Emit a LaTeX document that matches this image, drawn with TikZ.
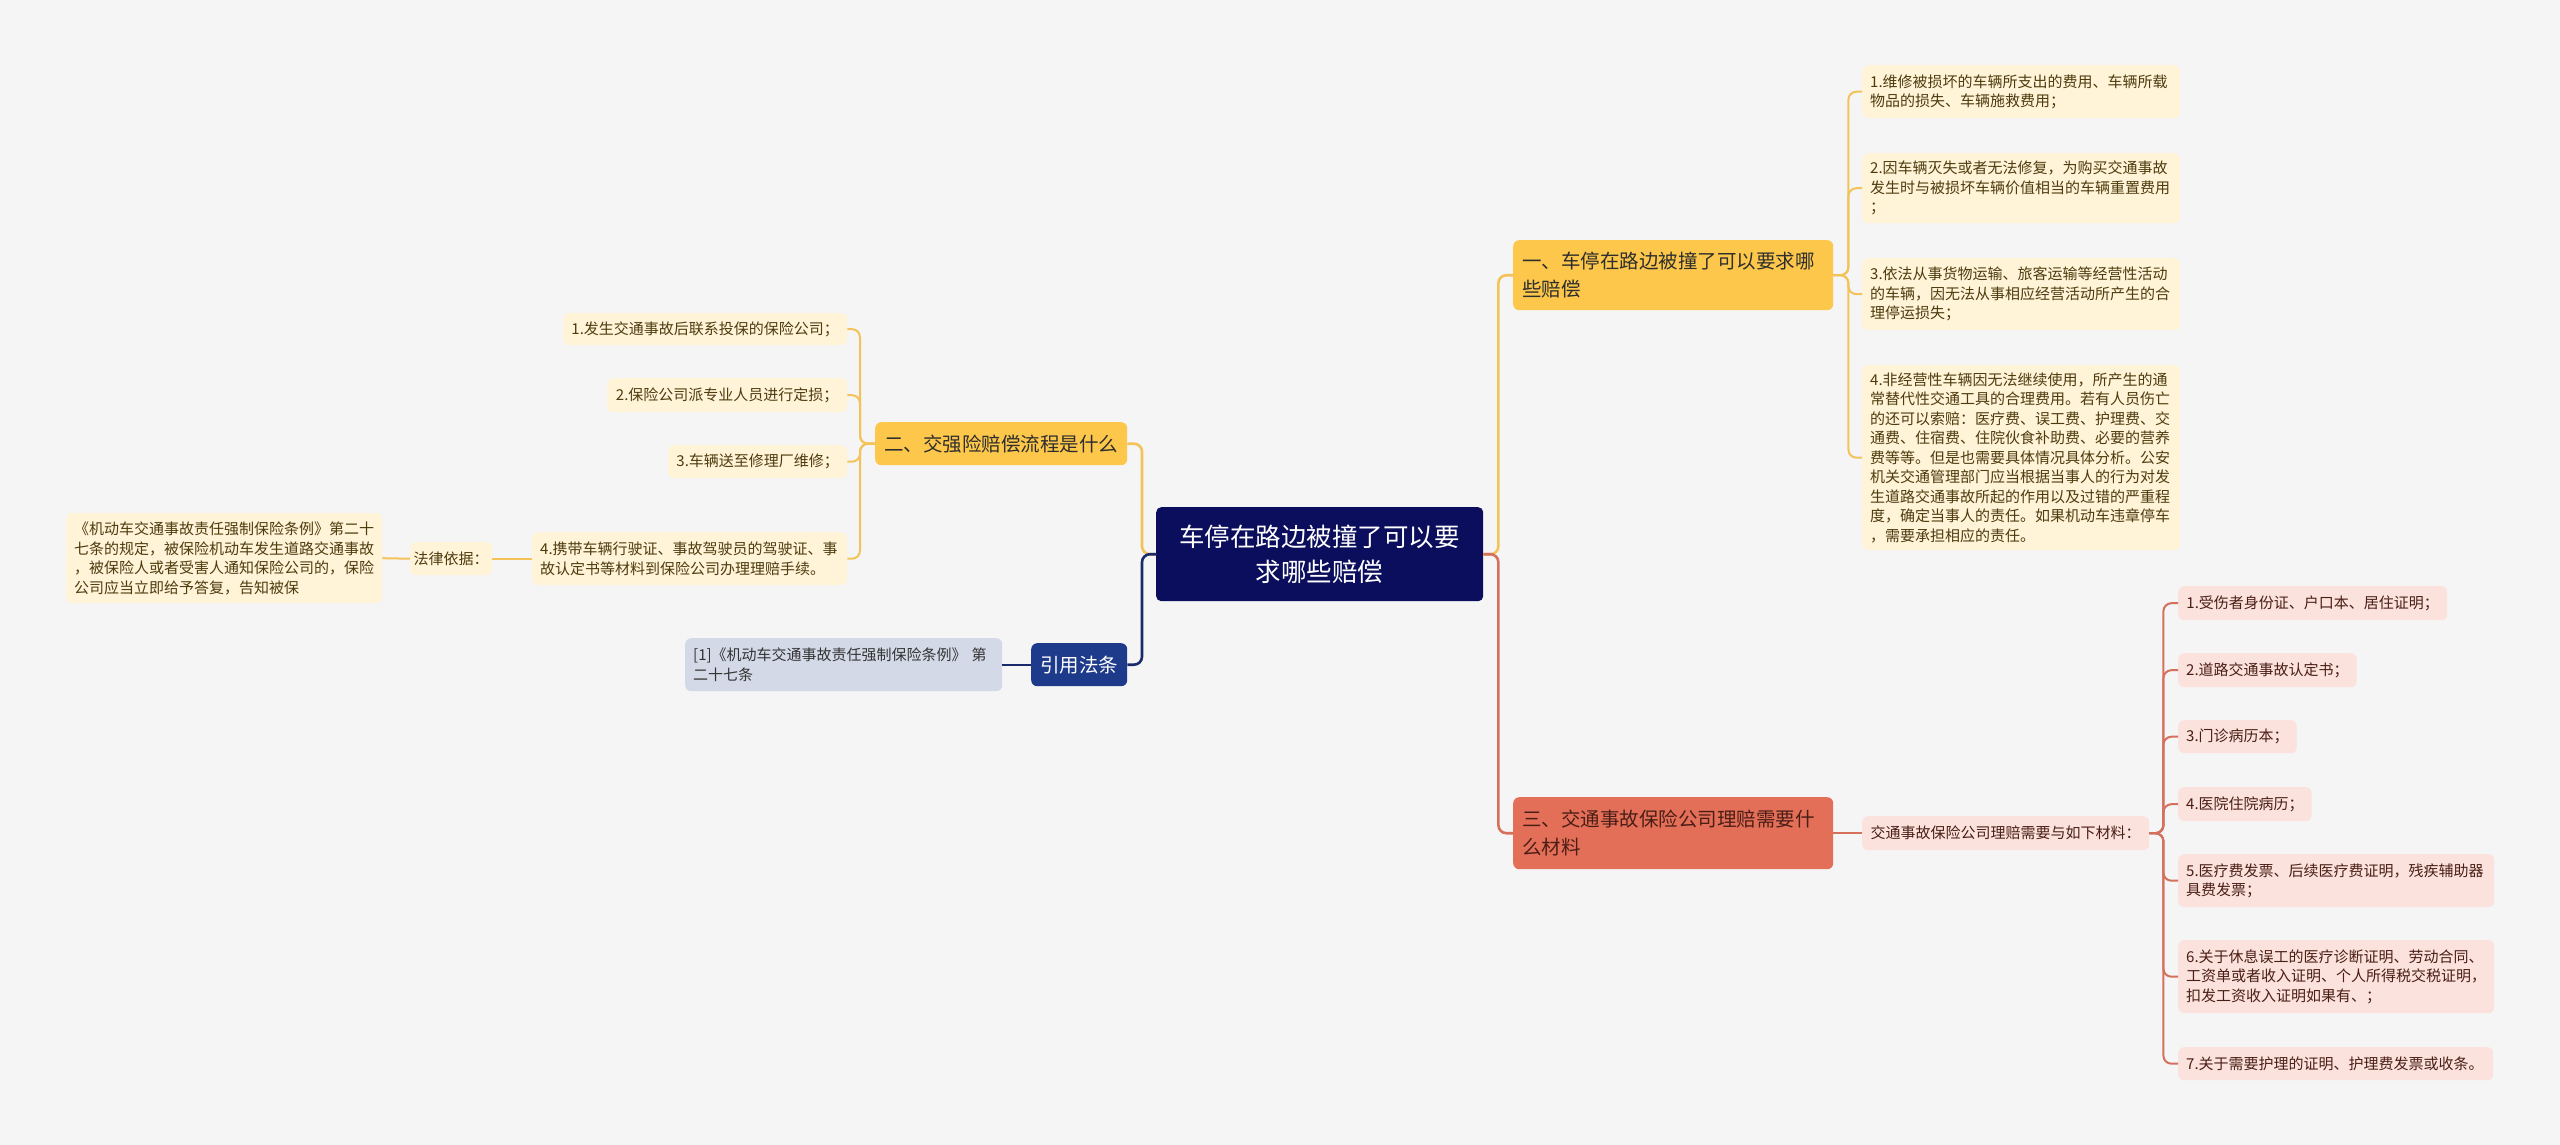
\documentclass[tikz,border=0pt]{standalone}
\usepackage{fontspec}
\setmainfont{Noto Sans CJK SC}
\definecolor{bgc}{HTML}{F5F5F5}
\definecolor{navy}{HTML}{0B0E5C}
\definecolor{ybr}{HTML}{FDC74B}
\definecolor{yleaf}{HTML}{FFF3D8}
\definecolor{yline}{HTML}{F3C35A}
\definecolor{ytext}{HTML}{4E3C0E}
\definecolor{rbr}{HTML}{E46F58}
\definecolor{rleaf}{HTML}{FBE2DC}
\definecolor{rline}{HTML}{D4705C}
\definecolor{rtext}{HTML}{4A1E16}
\definecolor{bbr}{HTML}{1E3A8A}
\definecolor{bleaf}{HTML}{D4D9E8}
\definecolor{bline}{HTML}{1A2A6C}
\begin{document}
\begin{tikzpicture}[x=1pt,y=-1pt,
  base/.style={anchor=north west, rounded corners=6pt, inner xsep=8pt, inner ysep=2pt,
    font=\fontsize{15}{19.5}\selectfont},
  rootbox/.style={base, fill=navy, text=white, rounded corners=5pt, align=center,
    font=\fontsize{25.5}{35}\selectfont},
  brY/.style={base, fill=ybr, text=black!82, inner xsep=9pt, font=\fontsize{19.5}{28}\selectfont},
  brR/.style={base, fill=rbr, text=rtext, inner xsep=9pt, font=\fontsize{19.5}{28}\selectfont},
  brB/.style={base, fill=bbr, text=white, inner xsep=9pt, font=\fontsize{19.5}{28}\selectfont},
  lfY/.style={base, fill=yleaf, text=ytext},
  lfR/.style={base, fill=rleaf, text=rtext},
  lfB/.style={base, fill=bleaf, text=black!80},
  cY/.style={draw=yline, line width=2pt, rounded corners=8pt},
  cR/.style={draw=rline, line width=2pt, rounded corners=8pt},
  cB/.style={draw=bline, line width=2pt, rounded corners=8pt},
  main/.style={line width=2.6pt}
]
\fill[bgc] (0,0) rectangle (2560,1145);

% root
\node[rootbox, minimum width=327pt, minimum height=94pt] (root) at (1156,507)
  {车停在路边被撞了可以要\\求哪些赔偿};

% branches
\node[brY, text width=302pt, align=left, minimum height=70pt] (b1) at (1513,240)
  {一、车停在路边被撞了可以要求哪\\些赔偿};
\node[brY, minimum width=252pt, minimum height=43pt] (b2) at (875,422)
  {二、交强险赔偿流程是什么};
\node[brR, text width=302pt, align=left, minimum height=72pt] (b3) at (1513,797)
  {三、交通事故保险公司理赔需要什\\么材料};
\node[brB, minimum width=96pt, minimum height=43pt] (b4) at (1031,643)
  {引用法条};

% branch 1 leaves
\node[lfY, text width=302pt, align=left, minimum height=53pt] (r1) at (1862,65)
  {1.维修被损坏的车辆所支出的费用、车辆所载\\物品的损失、车辆施救费用；};
\node[lfY, text width=302pt, align=left, minimum height=70pt] (r2) at (1862,153)
  {2.因车辆灭失或者无法修复，为购买交通事故\\发生时与被损坏车辆价值相当的车辆重置费用\\；};
\node[lfY, text width=302pt, align=left, minimum height=72pt] (r3) at (1862,258)
  {3.依法从事货物运输、旅客运输等经营性活动\\的车辆，因无法从事相应经营活动所产生的合\\理停运损失；};
\node[lfY, text width=302pt, align=left, minimum height=185pt] (r4) at (1862,365)
  {4.非经营性车辆因无法继续使用，所产生的通\\常替代性交通工具的合理费用。若有人员伤亡\\的还可以索赔：医疗费、误工费、护理费、交\\通费、住宿费、住院伙食补助费、必要的营养\\费等等。但是也需要具体情况具体分析。公安\\机关交通管理部门应当根据当事人的行为对发\\生道路交通事故所起的作用以及过错的严重程\\度，确定当事人的责任。如果机动车违章停车\\，需要承担相应的责任。};

% branch 2 leaves
\node[lfY, minimum width=284pt, minimum height=32pt] (l1) at (563,313)
  {1.发生交通事故后联系投保的保险公司；};
\node[lfY, minimum width=240pt, minimum height=34pt] (l2) at (607,378)
  {2.保险公司派专业人员进行定损；};
\node[lfY, minimum width=179pt, minimum height=33pt] (l3) at (668,445)
  {3.车辆送至修理厂维修；};
\node[lfY, text width=299pt, align=left, minimum height=53pt] (l4) at (532,532)
  {4.携带车辆行驶证、事故驾驶员的驾驶证、事\\故认定书等材料到保险公司办理理赔手续。};
\node[lfY, minimum width=82pt, minimum height=33pt, inner xsep=3pt] (law) at (410,542)
  {法律依据：};
\node[lfY, text width=300pt, align=left, minimum height=90pt] (quote) at (66,513)
  {《机动车交通事故责任强制保险条例》第二十\\七条的规定，被保险机动车发生道路交通事故\\，被保险人或者受害人通知保险公司的，保险\\公司应当立即给予答复，告知被保};

% citation leaf
\node[lfB, text width=301pt, align=left, minimum height=53pt] (cite) at (685,638)
  {[1]《机动车交通事故责任强制保险条例》 第\\二十七条};

% branch 3
\node[lfR, minimum width=287pt, minimum height=34pt] (sub) at (1862,816)
  {交通事故保险公司理赔需要与如下材料：};
\node[lfR, minimum width=269pt, minimum height=34pt] (k1) at (2178,586)
  {1.受伤者身份证、户口本、居住证明；};
\node[lfR, minimum width=178pt, minimum height=34pt] (k2) at (2178,653)
  {2.道路交通事故认定书；};
\node[lfR, minimum width=118pt, minimum height=33pt] (k3) at (2178,720)
  {3.门诊病历本；};
\node[lfR, minimum width=133pt, minimum height=34pt] (k4) at (2178,787)
  {4.医院住院病历；};
\node[lfR, text width=300pt, align=left, minimum height=53pt] (k5) at (2178,854)
  {5.医疗费发票、后续医疗费证明，残疾辅助器\\具费发票；};
\node[lfR, text width=300pt, align=left, minimum height=73pt] (k6) at (2178,940)
  {6.关于休息误工的医疗诊断证明、劳动合同、\\工资单或者收入证明、个人所得税交税证明，\\扣发工资收入证明如果有、；};
\node[lfR, text width=299pt, align=left, minimum height=33pt] (k7) at (2178,1047)
  {7.关于需要护理的证明、护理费发票或收条。};

% connectors from root
\draw[cY, main] (root.east) -- ++(15,0) |- (b1.west);
\draw[cR, main] (root.east) -- ++(15,0) |- (b3.west);
\draw[cY, main] (root.west) -- ++(-14,0) |- (b2.east);
\draw[cB, main] (root.west) -- ++(-14,0) |- (b4.east);

% branch 1
\foreach \n in {r1,r2,r3,r4}
  \draw[cY] (b1.east) -- ++(15,0) |- (\n.west);
% branch 2
\foreach \n in {l1,l2,l3,l4}
  \draw[cY] (b2.west) -- ++(-15,0) |- (\n.east);
\draw[cY] (l4.west) -- (law.east);
\draw[cY] (law.west) -- (quote.east);
% citation
\draw[cB] (b4.west) -- (cite.east);
% branch 3
\draw[cR] (b3.east) -- (sub.west);
\foreach \n in {k1,k2,k3,k4,k5,k6,k7}
  \draw[cR] (sub.east) -- ++(14,0) |- (\n.west);
\end{tikzpicture}
\end{document}
